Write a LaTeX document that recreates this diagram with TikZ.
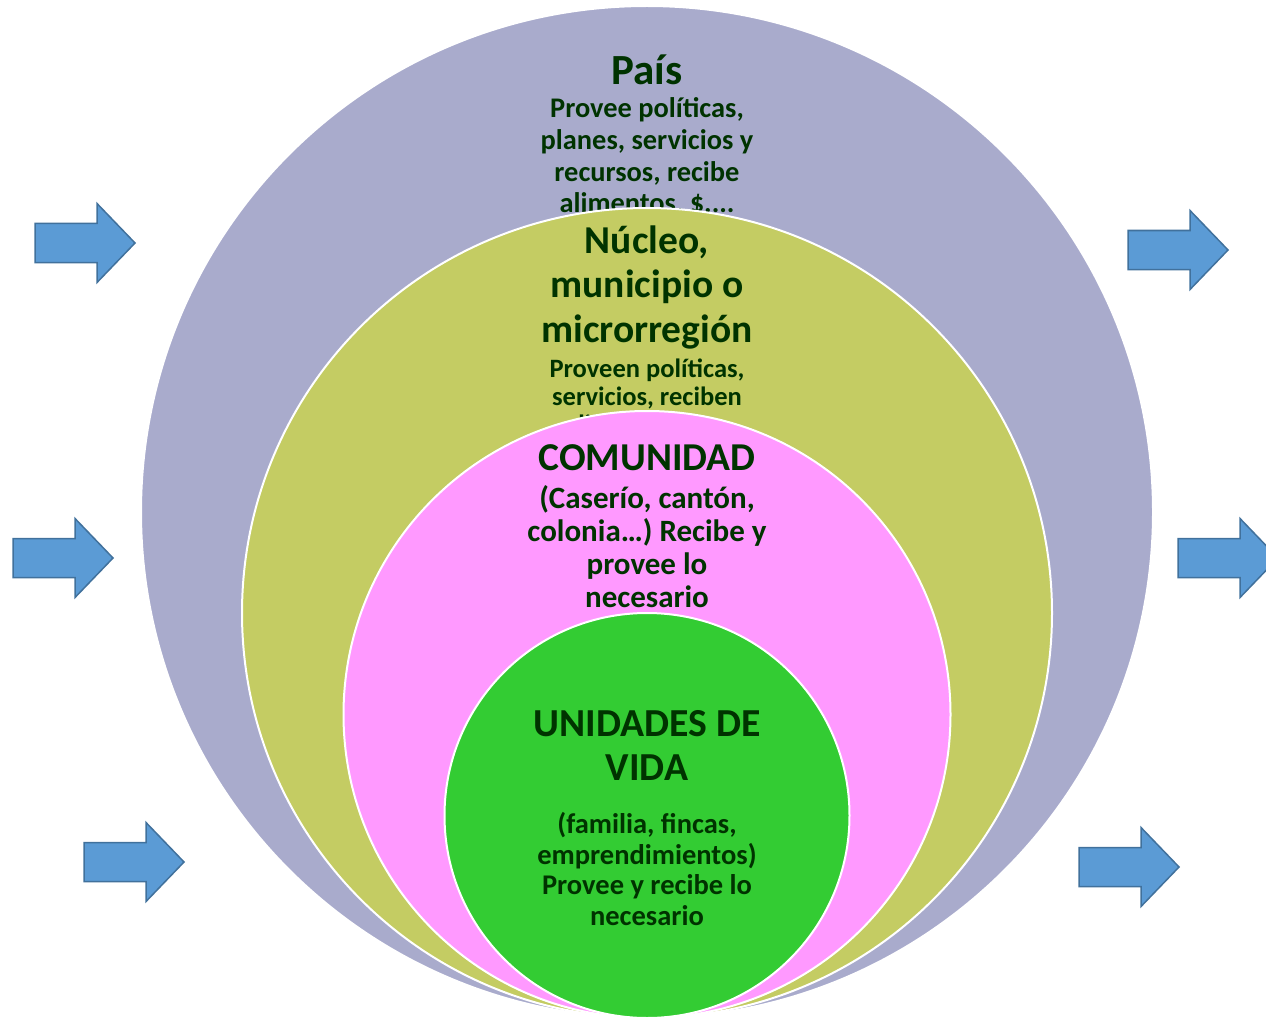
\documentclass[tikz,border=0pt]{standalone}
\usepackage{fontspec}
\setmainfont{Carlito}
\usepackage{tikz}
\usetikzlibrary{positioning}

\definecolor{paiscol}{HTML}{A9ABCC}
\definecolor{nucleocol}{HTML}{C4CC63}
\definecolor{comunidadcol}{HTML}{FF99FF}
\definecolor{vidacol}{HTML}{33CC33}
\definecolor{textcol}{HTML}{003300}
\definecolor{arrowfill}{HTML}{5B9BD5}
\definecolor{arrowline}{HTML}{41719C}

\begin{document}
\begin{tikzpicture}[
    x=1pt, y=-1pt,
    ringnode/.style={draw=white, line width=2pt},
    labelnode/.style={text=textcol, align=center, inner sep=0pt, anchor=base},
    blockarrow/.pic={
        \draw[fill=arrowfill, draw=arrowline, line width=1.5pt, line join=miter]
            (0,-19.5) -- (62,-19.5) -- (62,-39.5) -- (100,0) -- (62,39.5)
            -- (62,19.5) -- (0,19.5) -- cycle;
    },
]
\useasboundingbox (0,0) rectangle (1266,1019);

% rings, outer to inner, all touching at the bottom (y = 1018)
% text nodes sit on the baseline of their last line
\fill[paiscol, ringnode] (647,512) circle (506);
\node[labelnode, font=\bfseries\fontsize{43}{46}\selectfont](pais) at (647,85){País};
\node[labelnode, font=\bfseries\fontsize{28.4}{31.8}\selectfont](paistxt) at (647,213){Provee políticas,\\planes, servicios y\\recursos, recibe\\alimentos, \$....};

\fill[nucleocol, ringnode] (647,613) circle (405);
\node[labelnode, font=\bfseries\fontsize{39.5}{44.2}\selectfont](nucleo) at (647,342){Núcleo,\\municipio o\\microrregión};
\node[labelnode, font=\bfseries\fontsize{26.5}{28}\selectfont](nucleotxt) at (647,433){Proveen políticas,\\servicios, reciben\\alimentos, \$....};

\fill[comunidadcol, ringnode] (647,714.5) circle (303.5);
\node[labelnode, font=\bfseries\fontsize{39.5}{44}\selectfont](comunidad) at (647,470){COMUNIDAD};
\node[labelnode, font=\bfseries\fontsize{31}{33}\selectfont](comunidadtxt) at (647,607){(Caserío, cantón,\\colonia…) Recibe y\\provee lo\\necesario};

\fill[vidacol, ringnode] (647,815.5) circle (202.5);
\node[labelnode, font=\bfseries\fontsize{39.7}{43.5}\selectfont](vida) at (647,780){UNIDADES DE\\VIDA};
\node[labelnode, font=\bfseries\fontsize{28.5}{30.5}\selectfont](vidatxt) at (647,925){(familia, fincas,\\emprendimientos)\\Provee y recibe lo\\necesario};

% arrows
\pic at (35,243) {blockarrow};
\pic at (13,558) {blockarrow};
\pic at (84,862) {blockarrow};
\pic at (1128,250) {blockarrow};
\pic at (1178,558) {blockarrow};
\pic at (1079,867) {blockarrow};
\end{tikzpicture}
\end{document}
